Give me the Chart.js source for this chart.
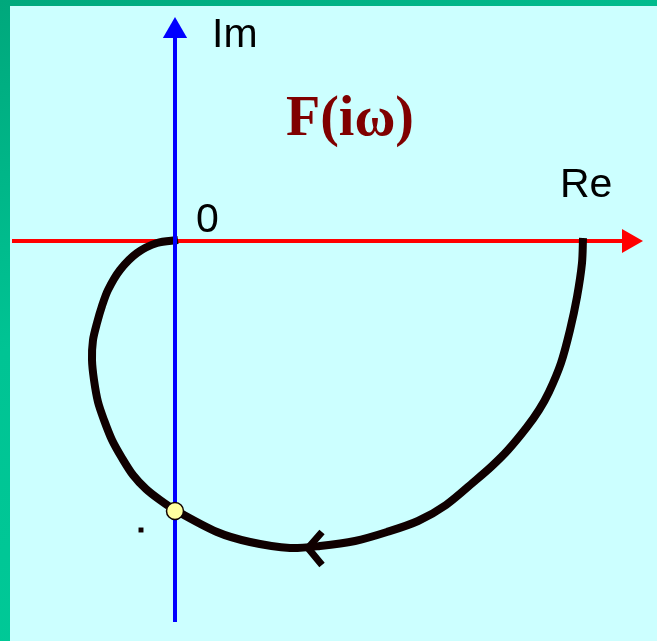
<!DOCTYPE html>
<html>
<head>
<meta charset="utf-8">
<script src="https://cdn.jsdelivr.net/npm/chart.js@4"></script>
<style>
  html, body { margin: 0; padding: 0; }
  body { width: 657px; height: 641px; background: linear-gradient(160deg, #00a87c 0%, #00c494 40%, #00cc99 100%); position: relative; overflow: hidden; }
  #box { position: absolute; left: 10px; top: 6px; width: 647px; height: 635px; background: #ccffff; }
</style>
</head>
<body>
<div id="box"><canvas id="chart"></canvas></div>
<script>
// Hodograph F(iω), units: 1 = 100 px, origin at the axes crossing
const curveX = [4.08, 4.07, 4.02, 3.95, 3.86, 3.74, 3.64, 3.52, 3.33, 3.17, 3.01, 2.71, 2.43, 2.12, 1.80, 1.45, 1.15,
                0.75, 0.42, 0.00, -0.15, -0.29, -0.42, -0.53, -0.63, -0.71, -0.77, -0.81, -0.83, -0.82, -0.78, -0.73, -0.67, -0.55, -0.38, -0.18, 0.03];
const curveY = [0.03, -0.22, -0.56, -0.89, -1.22, -1.51, -1.69, -1.86, -2.09, -2.25, -2.39, -2.64, -2.80, -2.91, -3.00, -3.05, -3.07,
                -3.01, -2.91, -2.69, -2.59, -2.48, -2.34, -2.17, -1.99, -1.79, -1.61, -1.39, -1.19, -0.99, -0.82, -0.65, -0.49, -0.29, -0.12, -0.02, 0.01];

// arrow on the curve (direction of growing ω)
const arrowX = [1.47, 1.33, 1.47];
const arrowY = [-2.91, -3.07, -3.24];

// axes
const reAxisX = [-1.63, 4.47];
const imAxisY = [-3.81, 2.03];
const reTip = 4.68;   // arrow point of Re axis
const imTip = 2.24;   // arrow point of Im axis

// marked points
const crossPoint = [0.00, -2.70];   // curve crosses Im axis
const strayDot = [-0.34, -2.89];

const xMin = -1.65, xMax = 4.82;
const yMin = -4.00, yMax = 2.35;

function pts(xs, ys) {
  return xs.map((x, i) => ({ x: x, y: ys[i] }));
}

const textPlugin = {
  id: 'texts',
  afterDraw(chart) {
    const ctx = chart.ctx;
    ctx.save();
    ctx.fillStyle = '#000000';
    ctx.font = '41px "Liberation Sans", Arial, sans-serif';
    ctx.textBaseline = 'alphabetic';
    ctx.fillText('Im', 202, 41);
    ctx.fillText('0', 186, 226);
    ctx.fillText('Re', 550, 191);
    ctx.fillStyle = '#800000';
    ctx.font = 'bold 56px "Liberation Serif", "Times New Roman", serif';
    ctx.fillText('F(iω)', 276, 129);
    ctx.restore();
  }
};

new Chart(document.getElementById('chart'), {
  type: 'line',
  data: {
    datasets: [
      {
        // yellow point on the Im axis
        data: [{ x: crossPoint[0], y: crossPoint[1] }],
        showLine: false,
        pointRadius: 8.5,
        pointBackgroundColor: '#ffffa0',
        pointBorderColor: '#100000',
        pointBorderWidth: 1.5,
        order: 0
      },
      {
        data: [{ x: strayDot[0], y: strayDot[1] }],
        showLine: false,
        pointStyle: 'rect',
        pointRadius: 3.5,
        pointBackgroundColor: '#100000',
        pointBorderWidth: 0,
        order: 1
      },
      {
        // Im axis
        data: [{ x: 0, y: imAxisY[0] }, { x: 0, y: imAxisY[1] }],
        borderColor: '#0000ff',
        borderWidth: 4,
        pointRadius: 0,
        order: 2
      },
      {
        data: [{ x: 0, y: imTip - 0.14 }],
        showLine: false,
        pointStyle: 'triangle',
        pointRadius: 14,
        rotation: 0,
        pointBackgroundColor: '#0000ff',
        pointBorderWidth: 0,
        order: 2
      },
      {
        data: pts(curveX, curveY),
        borderColor: '#100000',
        borderWidth: 8,
        tension: 0.3,
        borderCapStyle: 'butt',
        borderJoinStyle: 'round',
        pointRadius: 0,
        order: 3
      },
      {
        data: pts(arrowX, arrowY),
        borderColor: '#100000',
        borderWidth: 7,
        tension: 0,
        borderJoinStyle: 'miter',
        pointRadius: 0,
        order: 3
      },
      {
        // Re axis
        data: [{ x: reAxisX[0], y: 0 }, { x: reAxisX[1], y: 0 }],
        borderColor: '#ff0000',
        borderWidth: 4,
        pointRadius: 0,
        order: 4
      },
      {
        data: [{ x: reTip - 0.14, y: 0 }],
        showLine: false,
        pointStyle: 'triangle',
        pointRadius: 14,
        rotation: 90,
        pointBackgroundColor: '#ff0000',
        pointBorderWidth: 0,
        order: 4
      }
    ]
  },
  options: {
    responsive: true,
    maintainAspectRatio: false,
    animation: false,
    layout: { padding: 0, autoPadding: false },
    plugins: {
      legend: { display: false },
      tooltip: { enabled: false }
    },
    scales: {
      x: { type: 'linear', min: xMin, max: xMax, display: false },
      y: { type: 'linear', min: yMin, max: yMax, display: false }
    }
  },
  plugins: [textPlugin]
});
</script>
</body>
</html>
